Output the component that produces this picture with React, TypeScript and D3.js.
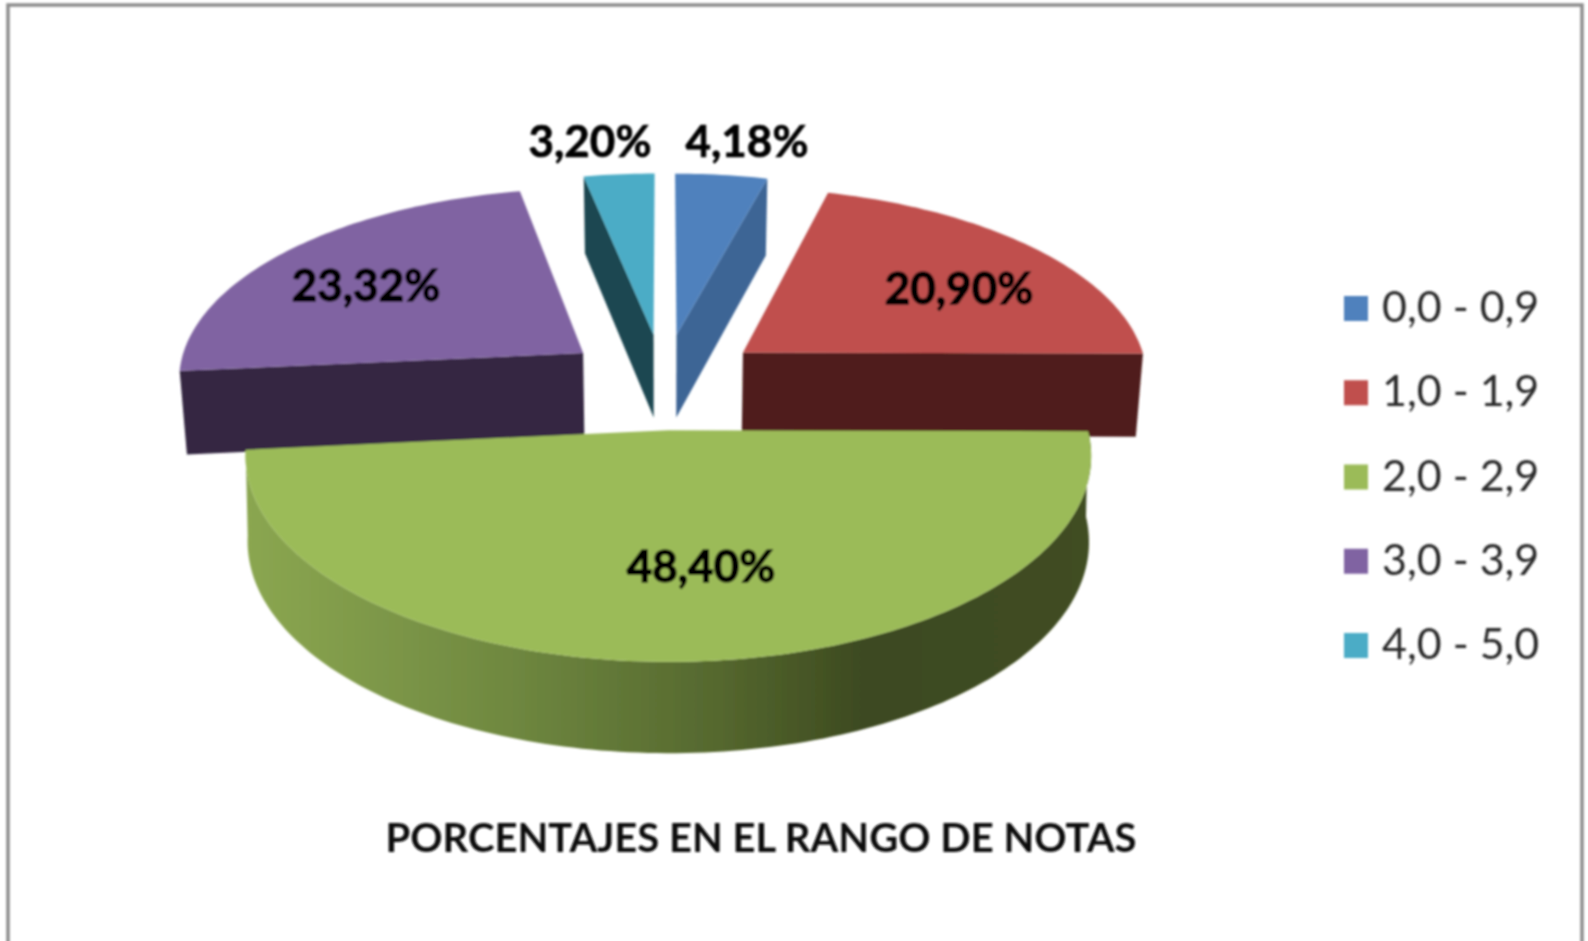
import React from "react";
import * as d3 from "d3";

const categories = ["0,0 - 0,9", "1,0 - 1,9", "2,0 - 2,9", "3,0 - 3,9", "4,0 - 5,0"];
const values = [4.18, 20.9, 48.4, 23.32, 3.2];
const valueLabels = ["4,18%", "20,90%", "48,40%", "23,32%", "3,20%"];
const topColors = ["#4f81bd", "#c0504d", "#9bbb59", "#8064a2", "#4bacc6"];
const wallColors = ["#3c6595", "#4f1f1d", "#3d4a20", "#352742", "#1e4651"];
const title = "PORCENTAJES EN EL RANGO DE NOTAS";

const W = 1588, H = 941;
const CX = 663.5, CY = 381, RX = 407, KY = 191, PERSP = 0.12, EXPLODE = 0.25, DEPTH = 84, DEPTH_SLOPE = 0.07;
const TAPER_BACK = 0.985, TAPER_FRONT = 0.995;
const FONT = "Lato, Carlito, Calibri, 'Open Sans', sans-serif";

const pieGen = d3.pie<number>().sort(null).value((d) => d);
const arcs = pieGen(values);

type P = [number, number];
const lineGen = d3.line<P>();

function project(a: number, r: number, mid: number, taper = 0): P {
  const wx = EXPLODE * Math.sin(mid) + r * Math.sin(a);
  const wy = EXPLODE * Math.cos(mid) + r * Math.cos(a);
  const s = 1 / (1 + PERSP * wy);
  let x = CX + RX * wx * s;
  let y = CY - KY * wy * s;
  if (taper) {
    x = CX + (x - CX) * taper;
    y = y + DEPTH * (1 - DEPTH_SLOPE * wy);
  }
  return [x, y];
}

function rim(a0: number, a1: number, mid: number, taper = 0): P[] {
  const n = Math.max(4, Math.ceil(Math.abs(a1 - a0) / 0.02));
  return d3.range(n + 1).map((i) => project(a0 + ((a1 - a0) * i) / n, 1, mid, taper));
}

function closed(points: P[]) {
  return lineGen(points) + "Z";
}

function App() {
  const mids = arcs.map((a) => (a.startAngle + a.endAngle) / 2);
  const topPath = (i: number) =>
    closed([project(0, 0, mids[i]), ...rim(arcs[i].startAngle, arcs[i].endAngle, mids[i])]);
  const radial = (i: number, a: number) =>
    closed([
      project(0, 0, mids[i]),
      project(a, 1, mids[i]),
      project(a, 1, mids[i], TAPER_BACK),
      project(0, 0, mids[i], TAPER_BACK),
    ]);
  const g = arcs[2];
  const frontWall = closed([
    ...rim(g.startAngle, g.endAngle, mids[2]),
    ...rim(g.startAngle, g.endAngle, mids[2], TAPER_FRONT).reverse(),
  ]);

  const back = [
    { i: 0, a: arcs[0].endAngle },
    { i: 4, a: arcs[4].startAngle },
    { i: 1, a: arcs[1].endAngle },
    { i: 3, a: arcs[3].startAngle },
  ];

  const labelPos: [number, number][] = [
    [747, 157],
    [959, 304],
    [701, 582],
    [366, 301],
    [590, 157],
  ];
  const labelStroke = [0.7, 1.4, 1.4, 1.4, 0.7];
  const legendY = d3.scalePoint<string>().domain(categories).range([308, 645]);

  return (
    <svg
      width={W}
      height={H}
      style={{ position: "absolute", left: 0, top: 0, display: "block", background: "#fff" }}
    >
      <defs>
        <linearGradient id="wallGrad" gradientUnits="userSpaceOnUse" x1="248" x2="1090" y1="0" y2="0">
          <stop offset="0" stopColor="#8aa650" />
          <stop offset="0.07" stopColor="#85a04d" />
          <stop offset="0.31" stopColor="#6f8840" />
          <stop offset="0.55" stopColor="#56692f" />
          <stop offset="0.73" stopColor="#3d4a20" />
          <stop offset="1" stopColor="#404d22" />
        </linearGradient>
        <filter id="soft" x="-5%" y="-5%" width="110%" height="110%">
          <feGaussianBlur stdDeviation="0.8" />
        </filter>
      </defs>
      <g filter="url(#soft)">
        <path d={`M8,${H + 5}V5H1582V${H + 5}`} fill="none" stroke="#8c8c8c" strokeWidth={3.5} />
        {back.map(({ i, a }) => (
          <g key={i}>
            <path d={radial(i, a)} fill={wallColors[i]} />
            <path d={topPath(i)} fill={topColors[i]} />
          </g>
        ))}
        <path d={frontWall} fill="url(#wallGrad)" />
        <path d={topPath(2)} fill={topColors[2]} />
        <g
          fontFamily={FONT}
          fontWeight={700}
          fontSize={44}
          fill="#050505"
          stroke="#050505"
          textAnchor="middle"
        >
          {valueLabels.map((t, i) => (
            <text key={t} x={labelPos[i][0]} y={labelPos[i][1]} strokeWidth={labelStroke[i]}>
              {t}
            </text>
          ))}
        </g>
        <text
          x={761}
          y={852}
          textAnchor="middle"
          fontFamily={FONT}
          fontWeight={700}
          fontSize={40}
          fill="#111"
        >
          {title}
        </text>
        {categories.map((c, i) => (
          <g key={c}>
            <rect
              x={1344}
              y={(legendY(c) as number) - 12}
              width={24}
              height={25}
              fill={topColors[i]}
            />
            <text
              x={1382}
              y={(legendY(c) as number) + 14}
              fontFamily={FONT}
              fontSize={43}
              fill="#2b2b2b"
            >
              {c}
            </text>
          </g>
        ))}
      </g>
    </svg>
  );
}

export default App;
